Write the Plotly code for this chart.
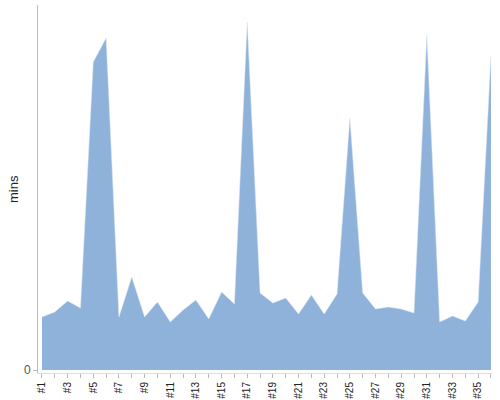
import plotly.graph_objects as go

categories = ["#%d" % i for i in range(1, 37)]
minutes = [53, 58, 69, 62, 308, 332, 53, 93, 53, 68, 48, 60, 70, 51, 78, 66,
           348, 77, 67, 72, 56, 75, 56, 76, 252, 77, 61, 63, 61, 57, 335, 48,
           54, 49, 68, 315]

xs = list(range(len(categories)))
ticktext = [c if i % 2 == 0 else "" for i, c in enumerate(categories)]

fig = go.Figure(go.Scatter(
    x=xs, y=minutes, mode="lines", fill="tozeroy",
    line=dict(width=0.5, color="#dce6f2"),
    fillcolor="#8fb2db", hoverinfo="skip"))

fig.update_layout(
    width=500, height=400,
    margin=dict(l=38, r=8, t=5, b=27),
    paper_bgcolor="white", plot_bgcolor="white",
    showlegend=False,
    font=dict(family="Liberation Sans, Arial, sans-serif", color="#333"),
    annotations=[dict(text="mins", xref="paper", yref="paper",
                      x=-0.055, y=0.5, xanchor="center", yanchor="middle",
                      textangle=-90, showarrow=False,
                      font=dict(size=13, color="#222"))],
)
fig.update_xaxes(
    range=[-0.31, 35.08], tickmode="array", tickvals=xs, ticktext=ticktext,
    tickangle=-90, ticks="outside", ticklen=4, tickcolor="#bbb",
    showline=True, linecolor="#ddd", linewidth=1, showgrid=False,
    zeroline=False, tickfont=dict(size=10, color="#222"), automargin=False)
fig.update_yaxes(
    range=[-3, 365], tickmode="array", tickvals=[0], ticktext=["0"],
    ticks="outside", ticklen=4, tickcolor="#bbb",
    showline=True, linecolor="#bbb", linewidth=1, showgrid=False,
    zeroline=False, tickfont=dict(size=12, color="#555"), automargin=False)

fig.write_html("out.html", config={"displayModeBar": False},
               post_script="document.body.style.margin='0';document.body.style.overflow='hidden';")
